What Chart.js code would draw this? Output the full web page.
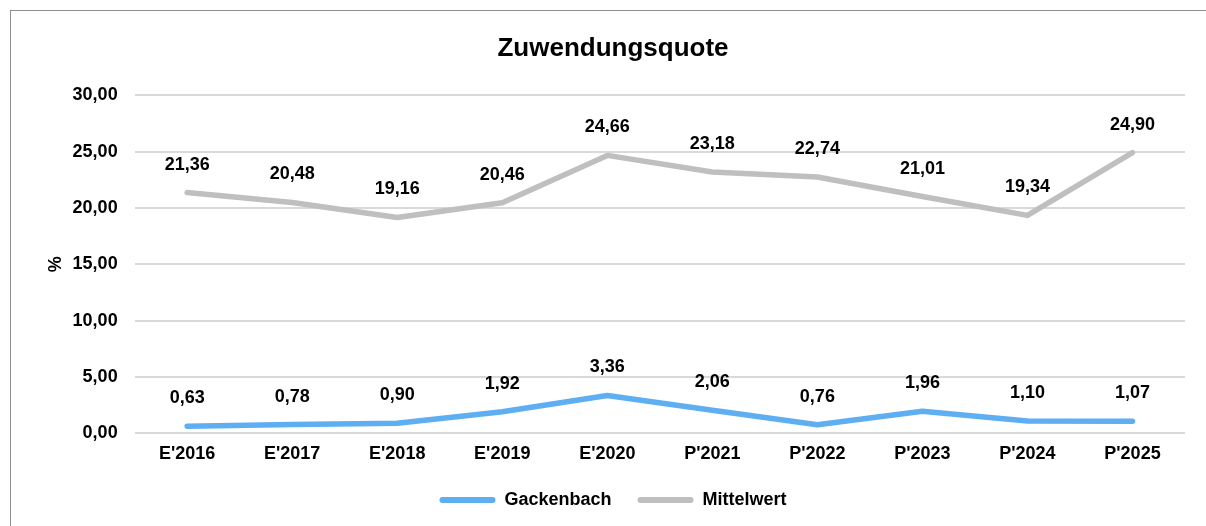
<!DOCTYPE html>
<html lang="de">
<head>
<meta charset="utf-8">
<title>Zuwendungsquote</title>
<script src="https://cdn.jsdelivr.net/npm/chart.js@4/dist/chart.umd.min.js"></script>
<style>
    html, body { margin: 0; padding: 0; background: #fff; overflow: hidden; }
    #wrap { position: relative; width: 1206px; height: 526px; }
    #frame {
        position: absolute; left: 10px; top: 10px; width: 1300px; height: 700px;
        border: 1px solid #8e8e8e; box-sizing: border-box; pointer-events: none;
    }
    canvas { position: absolute; left: 0; top: 0; }
</style>
</head>
<body>
<div id="wrap">
    <canvas id="chart" width="1206" height="526"></canvas>
    <div id="frame"></div>
</div>
<script>
    const chartTitle = 'Zuwendungsquote';
    const years = ["E'2016", "E'2017", "E'2018", "E'2019", "E'2020", "P'2021", "P'2022", "P'2023", "P'2024", "P'2025"];
    const gackenbach = [0.63, 0.78, 0.90, 1.92, 3.36, 2.06, 0.76, 1.96, 1.10, 1.07];
    const mittelwert = [21.36, 20.48, 19.16, 20.46, 24.66, 23.18, 22.74, 21.01, 19.34, 24.90];
    const yTicks = { min: 0, max: 30, step: 5 };

    const fontFamily = '"Liberation Sans", Arial, sans-serif';
    const fmt = (v) => Number(v).toFixed(2).replace('.', ',');

    // draws the value above each point, like the Excel data labels
    const valueLabels = {
        id: 'valueLabels',
        afterDatasetsDraw(chart) {
            const ctx = chart.ctx;
            ctx.save();
            ctx.font = `bold 18px ${fontFamily}`;
            ctx.fillStyle = '#000';
            ctx.textAlign = 'center';
            ctx.textBaseline = 'middle';
            chart.data.datasets.forEach((ds, i) => {
                const meta = chart.getDatasetMeta(i);
                meta.data.forEach((pt, j) => {
                    ctx.fillText(fmt(ds.data[j]), pt.x, pt.y - 28);
                });
            });
            ctx.restore();
        },
    };

    new Chart(document.getElementById('chart'), {
        type: 'line',
        data: {
            labels: years,
            datasets: [
                {
                    label: 'Gackenbach',
                    data: gackenbach,
                    borderColor: '#5EAEF2',
                    backgroundColor: '#5EAEF2',
                    borderWidth: 5.5,
                    borderCapStyle: 'round',
                    borderJoinStyle: 'round',
                    pointRadius: 0,
                    tension: 0,
                },
                {
                    label: 'Mittelwert',
                    data: mittelwert,
                    borderColor: '#BFBFBF',
                    backgroundColor: '#BFBFBF',
                    borderWidth: 5.5,
                    borderCapStyle: 'round',
                    borderJoinStyle: 'round',
                    pointRadius: 0,
                    tension: 0,
                },
            ],
        },
        options: {
            responsive: false,
            animation: false,
            layout: { padding: { left: 41, right: 21, top: 0, bottom: 7 } },
            scales: {
                x: {
                    offset: true,
                    grid: { display: false, drawTicks: false },
                    border: { display: false },
                    ticks: {
                        color: '#000',
                        padding: 10,
                        maxRotation: 0,
                        font: { family: fontFamily, size: 18, weight: 'bold' },
                    },
                },
                y: {
                    min: yTicks.min,
                    max: yTicks.max,
                    grid: { color: '#D9D9D9', lineWidth: 2, drawTicks: false },
                    border: { display: false },
                    ticks: {
                        stepSize: yTicks.step,
                        color: '#000',
                        padding: 17,
                        font: { family: fontFamily, size: 18, weight: 'bold' },
                        callback: (v) => fmt(v),
                    },
                    title: {
                        display: true,
                        text: '%',
                        color: '#000',
                        padding: { top: 4, bottom: -11 },
                        font: { family: fontFamily, size: 18, weight: 'bold' },
                    },
                },
            },
            plugins: {
                title: {
                    display: true,
                    text: chartTitle,
                    color: '#000',
                    padding: { top: 33, bottom: 31 },
                    font: { family: fontFamily, size: 26, weight: 'bold' },
                },
                legend: {
                    display: true,
                    position: 'bottom',
                    labels: {
                        color: '#000',
                        boxWidth: 56,
                        boxHeight: 6,
                        padding: 16,
                        useBorderRadius: true,
                        borderRadius: 3,
                        font: { family: fontFamily, size: 18, weight: 'bold' },
                        generateLabels(chart) {
                            const items = Chart.defaults.plugins.legend.labels.generateLabels(chart);
                            return items.map((item, i) => {
                                item.lineWidth = 0;
                                item.strokeStyle = 'transparent';
                                // wider gap between the two entries
                                if (i < items.length - 1) item.text += '\u00a0\u00a0';
                                return item;
                            });
                        },
                    },
                },
                tooltip: { enabled: false },
            },
        },
        plugins: [valueLabels],
    });
</script>
</body>
</html>
